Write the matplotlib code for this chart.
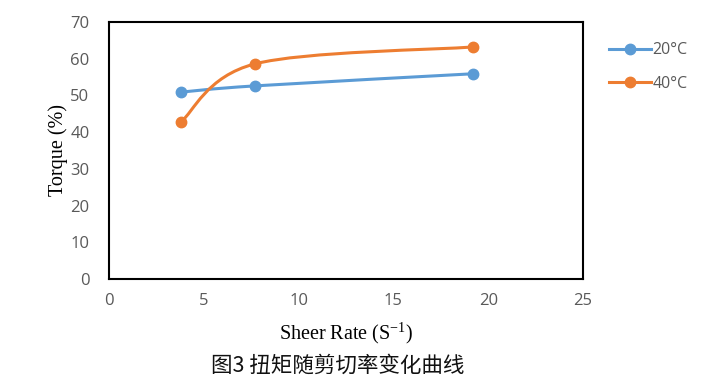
import matplotlib
matplotlib.use("Agg")
import matplotlib.pyplot as plt
from matplotlib.path import Path
from matplotlib.patches import PathPatch
import numpy as np

shear_rate = [3.8, 7.7, 19.2]
torque_20 = [50.9, 52.6, 55.9]
torque_40 = [42.8, 58.6, 63.2]
series_names = ["20°C", "40°C"]
colors = ["#5B9BD5", "#ED7D31"]
x_ticks = [0, 5, 10, 15, 20, 25]
y_ticks = [0, 10, 20, 30, 40, 50, 60, 70]

fig = plt.figure(figsize=(7.28, 3.92), dpi=100)
ax = fig.add_axes([109/728, 1-279/392, (583-109)/728, (279-22)/392])

def smooth_path(xs, ys):
    pts = np.column_stack([xs, ys])
    n = len(pts)
    verts = [pts[0]]
    codes = [Path.MOVETO]
    for i in range(n - 1):
        p0 = pts[i - 1] if i > 0 else pts[i]
        p1 = pts[i]
        p2 = pts[i + 1]
        p3 = pts[i + 2] if i + 2 < n else pts[i + 1]
        c1 = p1 + (p2 - p0) / 6.0
        c2 = p2 - (p3 - p1) / 6.0
        verts += [c1, c2, p2]
        codes += [Path.CURVE4] * 3
    return Path(verts, codes)

for ys, c, name in zip([torque_20, torque_40], colors, series_names):
    patch = PathPatch(smooth_path(shear_rate, ys), facecolor="none", edgecolor=c, lw=2.2, zorder=3)
    ax.add_patch(patch)
    ax.plot(shear_rate, ys, "o", color=c, ms=7.5, zorder=4)
    ax.plot([], [], "-o", color=c, lw=2.2, ms=7.5, label=name)

ax.set_xlim(0, 25)
ax.set_ylim(0, 70)
ax.set_xticks(x_ticks)
ax.set_yticks(y_ticks)
for s in ax.spines.values():
    s.set_linewidth(1.5)
    s.set_color("black")
ax.tick_params(axis="y", length=0, pad=14, labelsize=12, labelcolor="#595959")
ax.tick_params(axis="x", length=0, pad=10, labelsize=12, labelcolor="#595959")
for lab in ax.get_xticklabels() + ax.get_yticklabels():
    lab.set_fontfamily("Open Sans")

ax.set_xlabel("Sheer Rate (S$^{\\mathregular{-1}}$)", fontfamily="Liberation Serif", fontsize=14.5, labelpad=8)
ax.set_ylabel("Torque (%)", fontfamily="Liberation Serif", fontsize=14.5)
ax.yaxis.set_label_coords((68 - 109) / 474, 0.5)

leg = fig.legend(loc="upper left", bbox_to_anchor=(595/728, 1-28/392), frameon=False,
                 prop={"family": "Open Sans", "size": 11.5}, handlelength=2.6, labelspacing=1.1,
                 handletextpad=0.1, labelcolor="#595959")

fig.text(338/728, 1-366/392, "图3 扭矩随剪切率变化曲线", ha="center", va="center",
         fontfamily=["Noto Sans CJK SC", "DejaVu Sans"], fontsize=15.5, color="#111111")

fig.savefig("out.png", dpi=100)
